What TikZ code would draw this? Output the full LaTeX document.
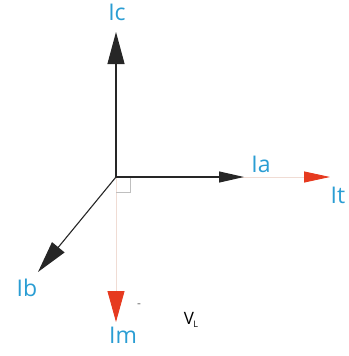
\documentclass[tikz,border=0pt]{standalone}
\usepackage{fontspec}
\setmainfont{Open Sans}
\usetikzlibrary{arrows.meta,positioning,calc}
\definecolor{labelblue}{HTML}{2A9DD3}
\definecolor{arrowred}{HTML}{E63A1F}
\definecolor{faint}{HTML}{F0DCD4}

\begin{document}
\begin{tikzpicture}[
  x=1pt, y=-1pt,
  font=\fontsize{23}{26}\selectfont,
  phasor/.style={line width=1.1pt, draw=black!85},
  faintline/.style={line width=0.9pt, draw=faint},
  lbl/.style={text=labelblue, inner sep=0pt}
]
\useasboundingbox (0,0) rectangle (348,356);

\coordinate (O) at (116,177);
\coordinate (ctip) at (116,32);
\coordinate (atip) at (244,177);
\coordinate (btip) at (38,272);
\coordinate (ttip) at (330,177);
\coordinate (mtip) at (116,322);

% faint resultant lines with red heads
\draw[faintline, -{Triangle[length=26pt, width=11pt, color=arrowred]}] (O) -- (ttip);
\draw[faintline, -{Triangle[length=31pt, width=17pt, color=arrowred]}] (O) -- (mtip);

% right angle mark
\draw[black!25, line width=0.8pt] ($(O)+(0,15)$) -| ($(O)+(14,0)$);

\draw[phasor, -{Triangle[length=32pt, width=17pt]}] (O) -- (ctip);
\draw[phasor, -{Triangle[length=25pt, width=11pt]}] (O) -- (atip);
\draw[phasor, -{Triangle[length=32pt, width=16pt]}] (O) -- (btip);

\node[lbl] (Ic) at (117,12) {Ic};
\node[lbl] (Ia) at (261,164) {Ia};
\node[lbl] (It) at (338,195) {It};
\node[lbl] (Ib) at (27,288) {Ib};
\node[lbl] (Im) at (123,335) {Im};
\node[inner sep=0pt, text=black!60, font=\fontsize{12}{14}\selectfont] (dash) at (139,306) {-};
\node[inner sep=0pt, font=\fontsize{17}{19}\selectfont] (VL) at (191,320) {V\kern-0.5pt\raisebox{-0.25ex}{\fontsize{9}{10}\selectfont L}};
\end{tikzpicture}
\end{document}
